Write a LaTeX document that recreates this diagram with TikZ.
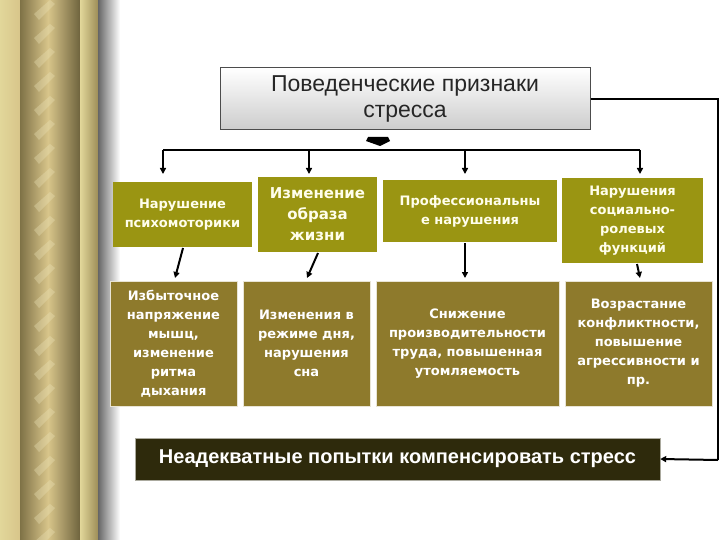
\documentclass[tikz,border=0pt]{standalone}
\usepackage{fontspec}
\setmainfont{Liberation Sans}
\newfontfamily\wide{DejaVu Sans}
\usetikzlibrary{arrows.meta}
\definecolor{olive1}{HTML}{9A9512}
\definecolor{olive2}{HTML}{8E7A2C}
\definecolor{darkb}{HTML}{2E2A0C}
\definecolor{goldA}{HTML}{E2D79A}
\definecolor{goldB}{HTML}{9E8E58}
\definecolor{goldC}{HTML}{D8C58A}
\begin{document}
\begin{tikzpicture}[x=1pt,y=-1pt,
  box1/.style={fill=olive1,text=white!92!yellow,font=\wide\bfseries\fontsize{13}{19}\selectfont,align=center,inner sep=1pt},
  box2/.style={fill=olive2,draw=white!80!olive2,line width=1pt,text=white,font=\wide\bfseries\fontsize{13}{19}\selectfont,align=center,inner sep=1pt},
  arr/.style={-{Triangle[length=6pt,width=6pt]},line width=2pt},
  ln/.style={line width=2pt}]
\useasboundingbox (0,0) rectangle (720,540);
% decorative left border
\shade[left color=goldA,right color=goldC] (0,0) rectangle (20,540);
\shade[left color=goldB!80!black,right color=goldC] (20,0) rectangle (48,540);
\shade[left color=goldC,right color=goldB!70!black] (48,0) rectangle (80,540);
\shade[left color=goldA,right color=goldB] (80,0) rectangle (98,540);
\foreach \y in {0,24,...,540}{\fill[goldA!70!white,opacity=.35] (34,\y+14) -- (50,\y) -- (55,\y+4) -- (39,\y+20) -- cycle;}
\shade[left color=gray!80!black,right color=white] (98,0) rectangle (120,540);
% top box
\node[draw=black!70,line width=1pt,top color=white,bottom color=gray!40,minimum width=370pt,minimum height=62pt,align=center,font=\fontsize{23}{26}\selectfont,text=black!85] (top) at (405,99) {Поведенческие признаки\\стресса};
\fill[black] (368,137) -- (388,137) -- (390,141) -- (380,146) -- (366,141) -- cycle;
\draw[ln] (163,150) -- (640,150);
% row 1
\node[box1,minimum width=139pt,minimum height=65pt] (b1) at (182.5,214.5) {Нарушение\\психомоторики};
\node[box1,minimum width=119pt,minimum height=75pt,font=\wide\bfseries\fontsize{15}{21}\selectfont] (b2) at (317.5,214.5) {Изменение\\образа\\жизни};
\node[box1,minimum width=174pt,minimum height=62pt] (b3) at (470,211) {Профессиональны\\е нарушения};
\node[box1,minimum width=141pt,minimum height=85pt] (b4) at (632.5,220.5) {Нарушения\\социально-\\ролевых\\функций};
\foreach \x/\n in {163/b1,309/b2,465/b3,640/b4}{\draw[arr] (\x,150) -- (\x,174);}
% row 2
\node[box2,minimum width=127pt,minimum height=125pt] (c1) at (173.5,343.5) {Избыточное\\напряжение\\мышц,\\изменение\\ритма\\дыхания};
\node[box2,minimum width=127pt,minimum height=125pt] (c2) at (306.5,343.5) {Изменения в\\режиме дня,\\нарушения\\сна};
\node[box2,minimum width=183pt,minimum height=125pt] (c3) at (467.5,343.5) {Снижение\\производительности\\труда, повышенная\\утомляемость};
\node[box2,minimum width=147pt,minimum height=125pt] (c4) at (638.5,343.5) {Возрастание\\конфликтности,\\повышение\\агрессивности и\\пр.};
\draw[arr] (183,248) -- (175,278);
\draw[arr] (318,253) -- (307,278);
\draw[arr] (465,243) -- (465,278);
\draw[arr] (637,264) -- (640,278);
% bottom
\node[fill=darkb,draw=white!60!darkb,minimum width=525pt,minimum height=42pt,text=white,font=\bfseries\fontsize{20}{22}\selectfont] (bot) at (397.5,459) {Неадекватные попытки компенсировать стресс};
\coordinate (r1) at (718,99);
\coordinate (r2) at (718,460);
\draw[ln] (top.east) -- (r1) -- (r2);
\draw[arr] (r2) -- (bot.east);
\end{tikzpicture}
\end{document}
